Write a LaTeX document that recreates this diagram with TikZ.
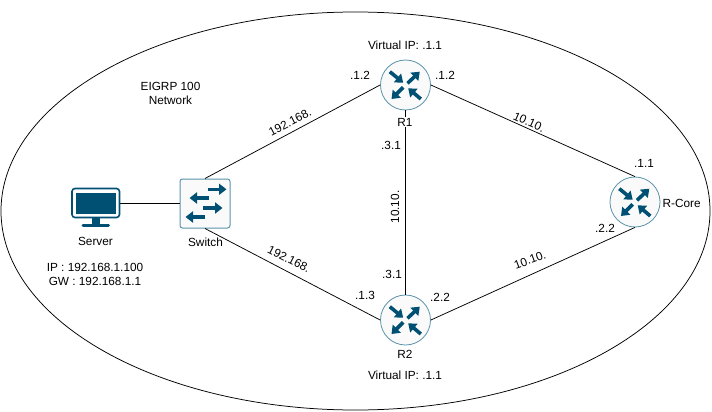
\documentclass[tikz,border=0pt]{standalone}
\usepackage{fontspec}
\setmainfont{Liberation Sans}
\usetikzlibrary{arrows.meta,calc,shapes.geometric}
\definecolor{cisco}{HTML}{005073}
\definecolor{ciscoline}{HTML}{5A93AB}
\tikzset{
  x=1pt,y=-1pt,
  routernode/.style={circle,draw=ciscoline,fill=black!2,line width=0.8pt,minimum size=50pt,inner sep=0pt},
  switchnode/.style={rectangle,rounded corners=2.5pt,draw=ciscoline,fill=black!2,line width=1pt,minimum width=50pt,minimum height=49pt,inner sep=0pt},
  link/.style={draw=black,line width=0.75pt},
  flow/.style={draw=cisco,line width=3.6pt,-{Triangle[length=7.5pt,width=11pt]}},
  lbl/.style={font=\fontsize{11.8pt}{14pt}\selectfont,inner sep=0pt,align=center,text=black}
}
\newcommand{\routerflows}[1]{%
  \draw[flow] ($(#1)+(-15.7,-13.3)$) -- ($(#1)+(-2.3,-2.3)$);
  \draw[flow] ($(#1)+(2,-1.7)$) -- ($(#1)+(14.3,-13.3)$);
  \draw[flow] ($(#1)+(-2.3,2.3)$) -- ($(#1)+(-14,14)$);
  \draw[flow] ($(#1)+(15.3,14)$) -- ($(#1)+(2.7,3.3)$);
}
\begin{document}
\begin{tikzpicture}
\useasboundingbox (0,0) rectangle (712,412);
\fill[white] (0,0) rectangle (712,412);
\node[ellipse,draw=black,line width=0.75pt,minimum width=709pt,minimum height=398pt,inner sep=0pt] (net) at (355.5,211) {};
\node[routernode] (r1) at (405.5,85) {};
\node[routernode] (r2) at (405.5,320) {};
\node[routernode] (rc) at (635,202) {};
\node[switchnode] (sw) at (205,203.5) {};
\coordinate (srvport) at (120,203);
\draw[link] (srvport) -- (sw.west |- srvport);
\draw[link] (sw.north) -- (r1.west);
\draw[link] (sw.south) -- (r2.west);
\draw[link] (r1.south) -- (r2.north);
\draw[link] (r1.east) -- (rc.north);
\draw[link] (r2.east) -- (rc.south);
\routerflows{r1}\routerflows{r2}\routerflows{rc}
% switch arrows
\draw[flow] (207.5,189.3) -- (226.5,189.3);
\draw[flow] (208.5,198) -- (189.5,198);
\draw[flow] (203,208) -- (222.5,208);
\draw[flow] (204.5,217) -- (185.5,217);
% server
\draw[cisco,fill=white,line width=1.6pt,rounded corners=3pt] (72,188.5) rectangle (119.5,217.5);
\fill[cisco] (76,192.5) rectangle (115.5,213.5);
\fill[cisco] (92,217) rectangle (100,225);
\draw[cisco,line width=3pt,line cap=round] (83,225.5) -- (108.5,225.5);
% labels
\node[lbl] (srv) at (95.5,241) {Server};
\node[lbl] (swl) at (205.5,242) {Switch};
\node[lbl] (ip) at (95,274) {IP : 192.168.1.100\\GW : 192.168.1.1};
\node[lbl] (eigrp) at (170.5,93) {EIGRP 100\\Network};
\node[lbl] (v1) at (405,45) {Virtual IP: .1.1};
\node[lbl] (v2) at (405,375) {Virtual IP: .1.1};
\node[lbl,fill=white,inner sep=1pt] (r1l) at (405,122) {R1};
\node[lbl] (r2l) at (405,354) {R2};
\node[lbl,anchor=west] (rcl) at (662.5,203) {R-Core};
\node[lbl] (a1) at (360,75) {.1.2};
\node[lbl] (a2) at (445,75) {.1.2};
\node[lbl] (a3) at (391,145) {.3.1};
\node[lbl] (a4) at (392,274) {.3.1};
\node[lbl] (a5) at (365,295) {.1.3};
\node[lbl] (a6) at (440,297) {.2.2};
\node[lbl] (a7) at (644,163) {.1.1};
\node[lbl] (a8) at (605,228) {.2.2};
\node[lbl,rotate=27] (n1) at (290,122) {192.168.};
\node[lbl,rotate=-27] (n2) at (289,259) {192.168.};
\node[lbl,rotate=90] (n3) at (395,207) {10.10.};
\node[lbl,rotate=-24] (n4) at (529,122) {10.10.};
\node[lbl,rotate=20] (n5) at (530,260) {10.10.};
\end{tikzpicture}
\end{document}
